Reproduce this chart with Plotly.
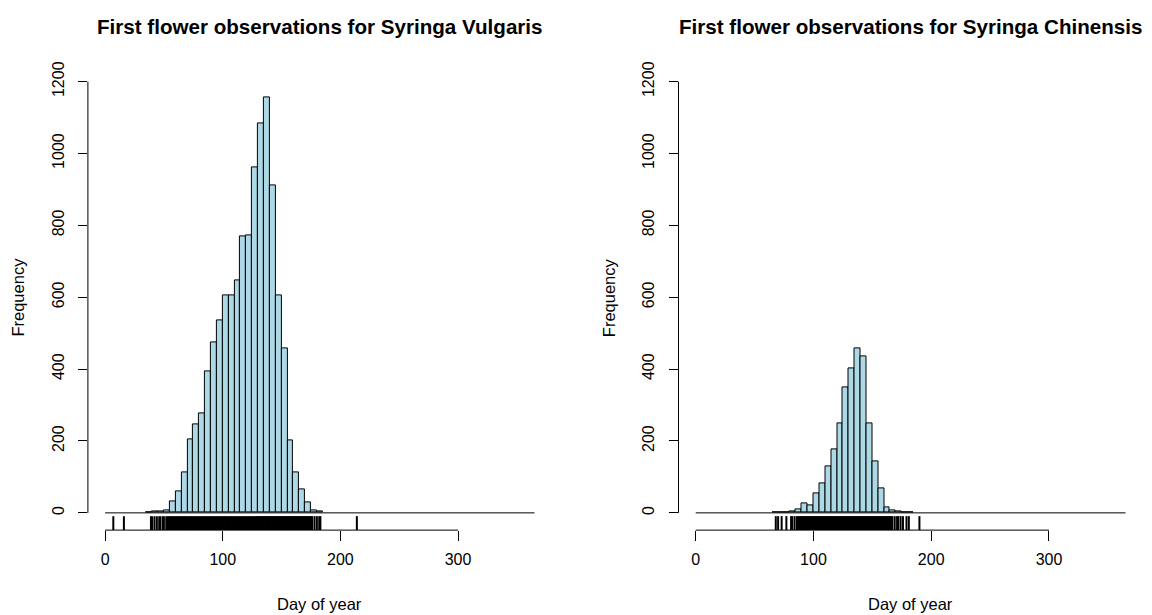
import plotly.graph_objects as go

# ---------------- data ----------------
BIN_WIDTH = 5
BREAKS_RANGE = [0, 365]          # hist breaks span (zero-count bins drawn as baseline)
X_TICKS = [0, 100, 200, 300]
Y_TICKS = [0, 200, 400, 600, 800, 1000, 1200]
Y_LIM = [0, 1200]

titles = ["First flower observations for Syringa Vulgaris",
          "First flower observations for Syringa Chinensis"]
x_label = "Day of year"
y_label = "Frequency"

# Syringa vulgaris: left edge of each visible 5-day bin and its count
vulgaris_bin_left = [35, 40, 45, 50, 55, 60, 65, 70, 75, 80, 85, 90, 95,
                     100, 105, 110, 115, 120, 125, 130, 135, 140, 145, 150, 155,
                     160, 165, 170, 175, 180]
vulgaris_counts = [1, 3, 5, 8, 32, 59, 112, 205, 247, 278, 394, 474, 536,
                   604, 604, 646, 768, 773, 960, 1084, 1156, 912, 604, 459, 201,
                   112, 64, 30, 6, 3]
# observed days shown in the rug (every day from 52 to 176 is present)
vulgaris_rug = ([7, 16, 39, 40, 42, 44, 46, 47, 49, 50]
                + list(range(52, 177))
                + [178, 180, 182, 183, 214])

# Syringa chinensis
chinensis_bin_left = [65, 70, 75, 80, 85, 90, 95, 100, 105, 110, 115, 120, 125,
                      130, 135, 140, 145, 150, 155, 160, 165, 170, 175, 180]
chinensis_counts = [1, 2, 2, 3, 11, 25, 21, 54, 83, 130, 176, 249, 349,
                    403, 459, 436, 248, 142, 69, 16, 8, 4, 2, 1]
# every day from 87 to 167 is present
chinensis_rug = ([68, 70, 73, 77, 81, 82, 84, 86]
                 + list(range(87, 168))
                 + [169, 171, 172, 174, 176, 179, 181, 190])

# ---------------- layout geometry ----------------
W, H = 1152, 615
FONT = "Liberation Sans, Arial, sans-serif"
panel_px = [(87.9, 551.7), (678.5, 1142.7)]
plot_top_px, plot_bot_px = 61.7, 529.7

xspan = BREAKS_RANGE[1] - BREAKS_RANGE[0]
x_range = [BREAKS_RANGE[0] - 0.04 * xspan, BREAKS_RANGE[1] + 0.04 * xspan]
yspan = Y_LIM[1] - Y_LIM[0]
y_range = [Y_LIM[0] - 0.04 * yspan, Y_LIM[1] + 0.04 * yspan]
rug_top = y_range[0] + 0.03 * (y_range[1] - y_range[0])

fig = go.Figure()

datasets = [(vulgaris_bin_left, vulgaris_counts, vulgaris_rug),
            (chinensis_bin_left, chinensis_counts, chinensis_rug)]

shapes = []
annotations = []
for i, (bl, cnt, rug) in enumerate(datasets):
    xa = "x" if i == 0 else "x2"
    ya = "y" if i == 0 else "y2"
    # baseline for the (zero-count) bins
    fig.add_trace(go.Scatter(x=BREAKS_RANGE, y=[0, 0], mode="lines",
                             line=dict(color="black", width=1),
                             xaxis=xa, yaxis=ya, showlegend=False, hoverinfo="skip"))
    # bars
    fig.add_trace(go.Bar(x=[b + BIN_WIDTH / 2 for b in bl], y=cnt, width=BIN_WIDTH,
                         marker=dict(color="#ADD8E6", line=dict(color="black", width=1)),
                         xaxis=xa, yaxis=ya, showlegend=False))
    # rug
    rx, ry = [], []
    for d in rug:
        rx += [d, d, None]
        ry += [y_range[0], rug_top, None]
    fig.add_trace(go.Scatter(x=rx, y=ry, mode="lines",
                             line=dict(color="black", width=2),
                             xaxis=xa, yaxis=ya, showlegend=False, hoverinfo="skip",
                             cliponaxis=False))
    # R-style axis lines (from first to last tick)
    shapes.append(dict(type="line", xref=f"{xa} domain", yref=ya,
                       x0=0, x1=0, y0=Y_TICKS[0], y1=Y_TICKS[-1],
                       line=dict(color="black", width=1)))
    shapes.append(dict(type="line", xref=xa, yref=f"{ya} domain",
                       x0=X_TICKS[0], x1=X_TICKS[-1], y0=0, y1=0,
                       line=dict(color="black", width=1)))
    x0p, x1p = panel_px[i]
    cx = (x0p + x1p) / 2 / W
    annotations.append(dict(text=f"<b>{titles[i]}</b>", x=cx, y=1 - 23.6 / H,
                            xref="paper", yref="paper", showarrow=False,
                            xanchor="center", yanchor="middle",
                            font=dict(family=FONT, size=20.6, color="black")))
    annotations.append(dict(text=x_label, x=cx, y=1 - 603.5 / H,
                            xref="paper", yref="paper", showarrow=False,
                            xanchor="center", yanchor="middle",
                            font=dict(family=FONT, size=16.5, color="black")))
    annotations.append(dict(text=y_label, x=(x0p - 69.6) / W,
                            y=1 - (plot_top_px + plot_bot_px) / 2 / H,
                            xref="paper", yref="paper", showarrow=False,
                            textangle=-90, xanchor="center", yanchor="middle",
                            font=dict(family=FONT, size=16.5, color="black")))

axis_common = dict(showgrid=False, zeroline=False, showline=False,
                   ticks="outside", tickcolor="black", tickwidth=1,
                   tickfont=dict(family=FONT, size=16, color="black"))

layout = dict(width=W, height=H, margin=dict(l=0, r=0, t=0, b=0),
              paper_bgcolor="white", plot_bgcolor="white",
              bargap=0, showlegend=False, shapes=shapes, annotations=annotations)
for i in range(2):
    sfx = "" if i == 0 else "2"
    x0p, x1p = panel_px[i]
    layout[f"xaxis{sfx}"] = dict(axis_common, range=x_range,
                                 domain=[x0p / W, x1p / W],
                                 anchor=f"y{sfx}", tickvals=X_TICKS, ticklen=10,
                                 ticklabelstandoff=5)
    layout[f"yaxis{sfx}"] = dict(axis_common, range=y_range,
                                 domain=[1 - plot_bot_px / H, 1 - plot_top_px / H],
                                 anchor=f"x{sfx}", tickvals=Y_TICKS, ticklen=9,
                                 tickangle=-90, ticklabelstandoff=8)

fig.update_layout(**layout)
fig.write_html("out.html")
